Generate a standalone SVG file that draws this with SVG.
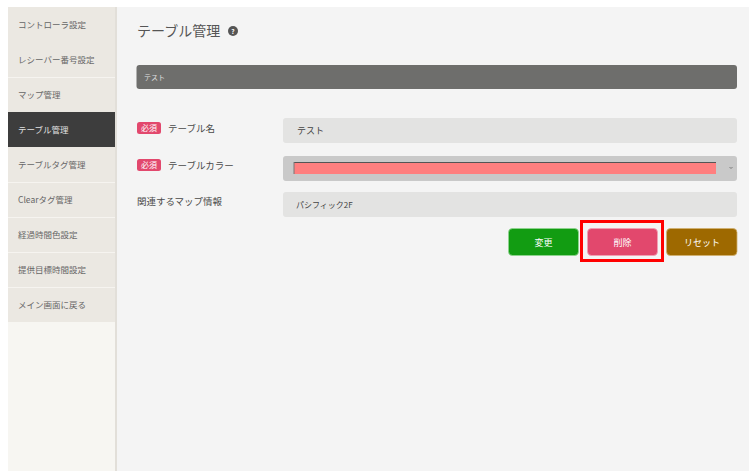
<svg xmlns="http://www.w3.org/2000/svg" width="749" height="471" viewBox="0 0 749 471">
<style>
text{font-family:"Noto Sans CJK JP","Noto Sans",sans-serif}
.nav{fill:#EBE8E2}
.navt{font-size:8.5px;fill:#666}
.sep{stroke:#F6F4F0;stroke-width:1}
.lbl{font-size:9.5px;fill:#4A4A4A}
.badge{fill:#E2486D}
.badget{font-size:8px;fill:#fff}
.inp{fill:#E3E3E2}
.btnt{font-size:9px;fill:#fff;text-anchor:middle}
</style>
<rect width="749" height="471" fill="#fff"/>
<rect x="8" y="7" width="741" height="464" fill="#F4F4F4"/>
<g id="sidebar">
<rect x="8" y="7" width="108" height="464" fill="#F7F6F2"/>
<rect class="nav" x="8" y="7" width="108" height="315"/>
<line x1="116" y1="7" x2="116" y2="471" stroke="#E2DFD9" stroke-width="2"/>
<g class="sep">
<line x1="8" y1="77.5" x2="115" y2="77.5"/>
<line x1="8" y1="182.5" x2="115" y2="182.5"/>
<line x1="8" y1="217.5" x2="115" y2="217.5"/>
<line x1="8" y1="252.5" x2="115" y2="252.5"/>
<line x1="8" y1="287.5" x2="115" y2="287.5"/>
</g>
<g id="nav1"><text class="navt" x="18" y="27.5">コントローラ設定</text></g>
<g id="nav2"><text class="navt" x="18" y="62.5">レシーバー番号設定</text></g>
<g id="nav3"><text class="navt" x="18" y="97.5">マップ管理</text></g>
<g id="nav4"><rect x="8" y="112" width="107" height="35" fill="#3D3D3D"/><text class="navt" x="18" y="132.5" style="fill:#E0E0E0">テーブル管理</text></g>
<g id="nav5"><text class="navt" x="18" y="167.5">テーブルタグ管理</text></g>
<g id="nav6"><text class="navt" x="18" y="202.5">Clearタグ管理</text></g>
<g id="nav7"><text class="navt" x="18" y="237.5">経過時間色設定</text></g>
<g id="nav8"><text class="navt" x="18" y="272.5">提供目標時間設定</text></g>
<g id="nav9"><text class="navt" x="18" y="307.5">メイン画面に戻る</text></g>
</g>
<g id="title">
<text x="137" y="36" font-size="14" fill="#555">テーブル管理</text>
<circle cx="233" cy="31" r="5" fill="#555"/>
<text x="233" y="33.5" font-size="6.5" fill="#fff" text-anchor="middle" font-weight="bold">?</text>
</g>
<g id="bar">
<rect x="136.5" y="65" width="600.5" height="24" rx="3" fill="#6E6E6C"/>
<text x="144" y="80" font-size="7" fill="#E0E0E0">テスト</text>
</g>
<g id="row-name">
<rect class="badge" x="137" y="122" width="24" height="12" rx="2.5"/>
<text class="badget" x="149" y="131" text-anchor="middle">必須</text>
<text class="lbl" x="168" y="132">テーブル名</text>
<rect class="inp" x="283" y="118" width="454" height="25" rx="3"/>
<text x="297" y="134" font-size="9" fill="#444">テスト</text>
</g>
<g id="row-color">
<rect class="badge" x="137" y="159" width="24" height="12" rx="2.5"/>
<text class="badget" x="149" y="168" text-anchor="middle">必須</text>
<text class="lbl" x="168" y="169">テーブルカラー</text>
<rect x="283" y="156" width="454" height="25" rx="3" fill="#C9C9C9"/>
<rect x="294" y="162" width="422" height="12" fill="#FF7F7F"/>
<line x1="294" y1="162.5" x2="716" y2="162.5" stroke="#555" stroke-width="1"/>
<line x1="294" y1="162" x2="294" y2="174" stroke="#777" stroke-width="1"/>
<polyline points="729.5,167 731,168.5 732.5,167" fill="none" stroke="#666" stroke-width="0.8"/>
</g>
<g id="row-map">
<text class="lbl" x="137" y="205">関連するマップ情報</text>
<rect class="inp" x="283" y="192" width="454" height="25" rx="3"/>
<text x="296" y="208" font-size="8" fill="#444">パシフィック2F</text>
</g>
<g id="btn-change">
<rect x="508.5" y="228.5" width="70" height="27" rx="4" fill="#129C12" stroke="#8FD48F" stroke-width="0.8"/>
<text class="btnt" x="543.5" y="245.5">変更</text>
</g>
<g id="btn-delete">
<rect x="587.5" y="228.5" width="70" height="27" rx="4" fill="#E2486D" stroke="#F2A0B4" stroke-width="0.8"/>
<text class="btnt" x="622.5" y="245.5">削除</text>
</g>
<g id="btn-reset">
<rect x="666.5" y="228.5" width="70.5" height="27" rx="4" fill="#9E6900" stroke="#D0B070" stroke-width="0.8"/>
<text class="btnt" x="702" y="245.5">リセット</text>
</g>
<g id="highlight">
<rect x="581.5" y="221.5" width="81" height="39" fill="none" stroke="#FF0000" stroke-width="3"/>
</g>
</svg>
